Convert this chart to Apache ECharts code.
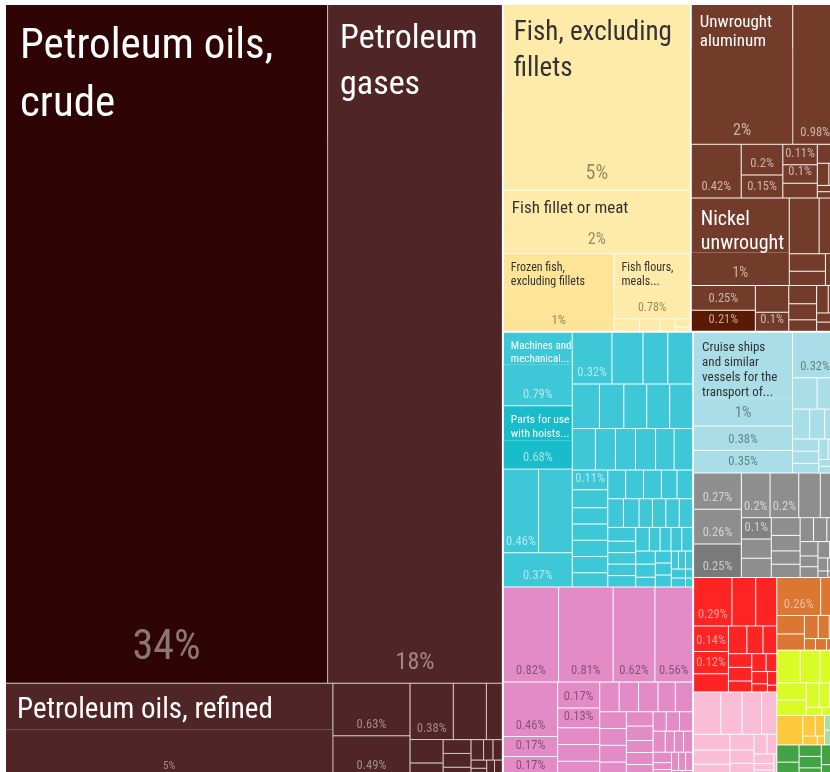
<!DOCTYPE html>
<html>
<head>
<meta charset="utf-8">
<title>Norway exports</title>
<script src="https://cdn.jsdelivr.net/npm/echarts@6/dist/echarts.min.js"></script>
<style>
  html, body { margin: 0; padding: 0; background: #fff; }
  #chart { width: 830px; height: 772px; }
</style>
</head>
<body>
<div id="chart"></div>
<script>
// share of total exports, in %
var petroleumNames = ['Petroleum oils,\ncrude', 'Petroleum\ngases'];
var petroleumVals = [34.0, 18.45];
var refinedName = 'Petroleum oils, refined';
var refinedVals = [4.75, 0.63, 0.29];
var mineralSmall = [0.49, 0.38, 0.14, 0.12, 0.07, 0.06, 0.06, 0.04, 0.04, 0.03, 0.03, 0.02, 0.02, 0.02, 0.02];

var fishNames = ['Fish, excluding\nfillets', 'Fish fillet or meat', 'Frozen fish,\nexcluding fillets', 'Fish flours,\nmeals...'];
var fishVals = [5.43, 1.84, 1.35, 0.78];
var fishSmall = [0.05, 0.04, 0.03, 0.02, 0.01];

var metalNames = ['Unwrought\naluminum', 'Nickel\nunwrought'];
var aluminumVals = [2.22, 0.98, 0.42, 0.2, 0.15, 0.11, 0.1, 0.08, 0.06, 0.04, 0.03, 0.02, 0.02];
var nickelVals = [1.34, 0.26, 0.16, 0.1, 0.08, 0.06];
var metalsLow = [0.25, 0.21, 0.14, 0.1, 0.08, 0.07, 0.05, 0.05, 0.04, 0.03, 0.03];

var machineNames = ['Machines and\nmechanical...', 'Parts for use\nwith hoists...'];
var machinesLeft = [0.79, 0.68, 0.46, 0.44, 0.37];
var machinesRest = [0.32, 0.25, 0.2, 0.2, 0.19, 0.17, 0.16, 0.16, 0.16, 0.15, 0.13, 0.13, 0.13, 0.12, 0.12, 0.11, 0.1,
  0.09, 0.09, 0.09, 0.09, 0.08, 0.08, 0.08, 0.08, 0.07, 0.07, 0.07, 0.07, 0.06, 0.06, 0.06, 0.06, 0.06,
  0.05, 0.05, 0.05, 0.05, 0.05, 0.04, 0.04, 0.04, 0.04, 0.04, 0.04, 0.03, 0.03, 0.03, 0.03,
  0.02, 0.02, 0.02, 0.02, 0.02, 0.01, 0.01];
var chemicalVals = [0.82, 0.81, 0.62, 0.56, 0.46, 0.17, 0.17, 0.17, 0.13, 0.11, 0.11, 0.1,
  0.09, 0.09, 0.09, 0.08, 0.08, 0.07, 0.07, 0.07, 0.06, 0.06, 0.06, 0.05, 0.05, 0.05,
  0.04, 0.04, 0.04, 0.04, 0.03, 0.03, 0.03, 0.03, 0.02, 0.02, 0.02, 0.02, 0.02, 0.01, 0.01];

var transportName = 'Cruise ships\nand similar\nvessels for the\ntransport of...';
var transportVals = [1.45, 0.38, 0.35, 0.32, 0.12, 0.1, 0.08, 0.07, 0.06, 0.05, 0.05, 0.04, 0.03, 0.03, 0.02, 0.02];
var instrumentVals = [0.27, 0.26, 0.25, 0.2, 0.2, 0.15, 0.12, 0.1, 0.09, 0.09, 0.08, 0.07, 0.06, 0.06,
  0.05, 0.05, 0.04, 0.04, 0.03, 0.03, 0.03, 0.02, 0.02, 0.02, 0.01, 0.01];
var plasticVals = [0.29, 0.18, 0.16, 0.14, 0.12, 0.1, 0.08, 0.07, 0.06, 0.05, 0.05, 0.04, 0.04, 0.03, 0.03, 0.02, 0.02, 0.01];
var pinkVals = [0.18, 0.14, 0.13, 0.1, 0.09, 0.08, 0.07, 0.06, 0.05, 0.05, 0.04, 0.03, 0.03, 0.02, 0.02, 0.01];
var orangeVals = [0.26, 0.1, 0.08, 0.07, 0.05, 0.04, 0.03, 0.02, 0.02, 0.02];
var limeVals = [0.12, 0.1, 0.09, 0.08, 0.07, 0.05, 0.04, 0.03, 0.02, 0.02];
var goldVals = [0.12, 0.04, 0.03, 0.02, 0.01];
var paleGreenVals = [0.03, 0.02, 0.01];
var greenVals = [0.06, 0.05, 0.04, 0.04, 0.03, 0.03, 0.02, 0.02, 0.01];

var F = "'Roboto Condensed', 'Liberation Sans Narrow', 'DejaVu Sans Condensed', Roboto, sans-serif";
var FS = 'condensed';
var PCT_SIZE = 12.5;
var C = {
  crude: '#2e0404', gas: '#4f2528', fish: '#feeaa9', frozen: '#fde497', metal: '#733b29', metalDark: '#5b1a03',
  mach: '#3ec7d6', hoist: '#18bccb', trans: '#a9dde7', instr: '#8e8e8e', instrDark: '#7a7a7a',
  chem: '#e38bc6', plastic: '#ff2424', pink: '#f9bdd6', orange: '#db7733', lime: '#d9fb26',
  gold: '#fec83c', paleGreen: '#a5e0a0', green: '#43a244'
};
var P = {
  light: 'rgba(255,255,255,0.45)', lighter: 'rgba(255,255,255,0.6)', dark: 'rgba(0,0,0,0.42)'
};

var pctSizes = {};
function pct(v) {
  return (v >= 1 ? Math.round(v) : +v.toFixed(2)) + '%';
}
function leaf(v, pc, fs, color) {
  var size = fs || PCT_SIZE;
  if (fs) pctSizes[pct(v)] = Math.max(pctSizes[pct(v)] || 0, fs);
  var d = {
    name: pct(v), value: v,
    label: pc ? { color: pc, fontSize: size, padding: [0, 1, Math.max(3, Math.round(size * 0.32)), 1] } : { show: false }
  };
  if (color) d.itemStyle = { color: color };
  return d;
}
function leaves(vals, pc) {
  return vals.map(function (v) { return leaf(v, pc); });
}
// a cell with its name written in the upper band and its share at the bottom
function named(title, v, color, tc, nameSize, lineH, band, pc, pctSize) {
  return {
    name: title, value: v,
    itemStyle: { color: color, borderColor: color, gapWidth: 0 },
    upperLabel: {
      show: true, height: band, position: 'insideTopLeft', verticalAlign: 'top', align: 'left',
      color: tc, fontSize: nameSize, lineHeight: lineH, fontFamily: F, fontStyle: FS,
      padding: [Math.round(nameSize * 0.18), 0, 0, Math.max(2, Math.round(nameSize * 0.2))], formatter: title
    },
    children: [leaf(v, pc, pctSize, color)]
  };
}
function desc(a) { return a.slice().sort(function (x, y) { return y - x; }); }
function colored(name, color, vals, pc, shade) {
  return { name: name, itemStyle: { color: color }, children: vals.map(function (v, i) {
    return leaf(v, pc, null, shade && shade[i] ? shade[i] : null);
  }) };
}

var lineMineral = '#d3c7c7';
var mineral = {
  name: 'Mineral products', itemStyle: { color: C.gas, borderColor: lineMineral },
  children: [
    { name: 'crude and gas', itemStyle: { borderColor: lineMineral }, children: [
      named(petroleumNames[0], petroleumVals[0], C.crude, '#fff', 43, 58, 132, P.light, 42),
      named(petroleumNames[1], petroleumVals[1], C.gas, '#fff', 34, 46, 108, P.light, 24)
    ] },
    { name: 'other fuels', itemStyle: { borderColor: lineMineral }, children:
      [named(refinedName, refinedVals[0], C.gas, '#fff', 29, 34, 46, P.light, 11)]
        .concat(leaves(desc(refinedVals.slice(1).concat(mineralSmall)), P.light))
    }
  ]
};

var fish = {
  name: 'Animal products', itemStyle: { color: C.fish },
  children: [
    named(fishNames[0], fishVals[0], C.fish, '#333', 27, 36, 86, P.dark, 20),
    { name: 'other fish', children: [
      named(fishNames[1], fishVals[1], C.fish, '#333', 17, 20, 27, P.dark, 16),
      { name: 'frozen', children: [
        named(fishNames[2], fishVals[2], C.frozen, '#333', 12, 14, 34, P.dark, 13),
        named(fishNames[3], fishVals[3], C.fish, '#333', 12, 14, 34, P.dark, 12)
      ].concat(leaves(fishSmall, P.dark)) }
    ] }
  ]
};

var metals = {
  name: 'Metals', itemStyle: { color: C.metal },
  children: [
    { name: 'aluminum', children:
      [named(metalNames[0], aluminumVals[0], C.metal, '#fff', 17, 19, 44, P.lighter, 16)]
        .concat(leaves(aluminumVals.slice(1), P.lighter)) },
    { name: 'nickel', children: [
      { name: 'nickel top', children:
        [named(metalNames[1], nickelVals[0], C.metal, '#fff', 20, 24, 54, P.lighter, 14)]
          .concat(leaves(nickelVals.slice(1), P.lighter)) },
      { name: 'nickel low', children: metalsLow.map(function (v, i) {
        return leaf(v, P.lighter, null, i === 1 ? C.metalDark : null);
      }) }
    ] }
  ]
};

var machinesChem = {
  name: 'machines and chemicals',
  children: [
    { name: 'Machines', itemStyle: { color: C.mach }, children: [
      { name: 'machines left', children: [
        named(machineNames[0], machinesLeft[0], C.mach, '#fff', 11, 13, 32, P.lighter, 12.5),
        named(machineNames[1], machinesLeft[1], C.hoist, '#fff', 11.5, 14, 34, P.lighter, 12.5)
      ].concat(leaves(machinesLeft.slice(2), P.lighter)) },
      { name: 'machines rest', children: leaves(machinesRest, P.lighter) }
    ] },
    { name: 'Chemical products', itemStyle: { color: C.chem }, children: leaves(chemicalVals, P.dark) }
  ]
};

var others = {
  name: 'others',
  children: [
    { name: 'transport and instruments', children: [
      { name: 'Transportation', itemStyle: { color: C.trans }, children:
        [named(transportName, transportVals[0], C.trans, '#333', 13, 15, 66, P.dark, 15)]
          .concat(leaves(transportVals.slice(1), P.dark)) },
      colored('Instruments', C.instr, instrumentVals, P.lighter, { 2: C.instrDark, 7: '#828282' })
    ] },
    { name: 'lower', children: [
      { name: 'plastics and stone', children: [
        colored('Plastics and rubbers', C.plastic, plasticVals, 'rgba(255,255,255,0.55)'),
        colored('Stone and glass', C.pink, pinkVals, P.dark)
      ] },
      { name: 'small', children: [
        { name: 'wood and paper', children: [
          colored('Wood products', C.orange, orangeVals, 'rgba(255,255,255,0.5)'),
          colored('Vegetable products', C.lime, limeVals, null)
        ] },
        { name: 'rest', children: [
          colored('Foodstuffs', C.gold, goldVals, P.dark),
          colored('Miscellaneous', C.paleGreen, paleGreenVals, null),
          colored('Textiles', C.green, greenVals, null)
        ] }
      ] }
    ] }
  ]
};

// hide percentage labels that do not fit in their cell, as the original does
var measure = document.createElement('canvas').getContext('2d');
function fits(p) {
  if (!p.text || !p.rect) return true;
  var size = pctSizes[p.text] || PCT_SIZE;
  measure.font = FS + ' ' + size + 'px ' + F;
  return measure.measureText(p.text).width + 3 <= p.rect.width && size + 5 <= p.rect.height;
}

var chart = echarts.init(document.getElementById('chart'));
chart.setOption({
  animation: false,
  series: [{
    type: 'treemap',
    left: 6, top: 5, width: 831, height: 771,
    squareRatio: 1.86,
    sort: false,
    roam: false,
    nodeClick: false,
    breadcrumb: { show: false },
    levels: [{ itemStyle: { gapWidth: 2, borderWidth: 0, borderColor: '#fff' } }],
    itemStyle: { borderWidth: 0, gapWidth: 1, borderColor: '#fff' },
    upperLabel: { show: false },
    label: {
      show: true, position: 'insideBottom', fontFamily: F, fontStyle: FS, fontSize: PCT_SIZE,
      overflow: 'truncate', ellipsis: '',
      formatter: function (p) { return p.value >= 0.1 ? pct(p.value) : ''; }
    },
    labelLayout: function (p) {
      if (!fits(p)) return { x: -9999, y: -9999 };
    },
    data: [mineral, fish, metals, machinesChem, others]
  }]
});
window.addEventListener('resize', function () { chart.resize(); });
</script>
</body>
</html>
